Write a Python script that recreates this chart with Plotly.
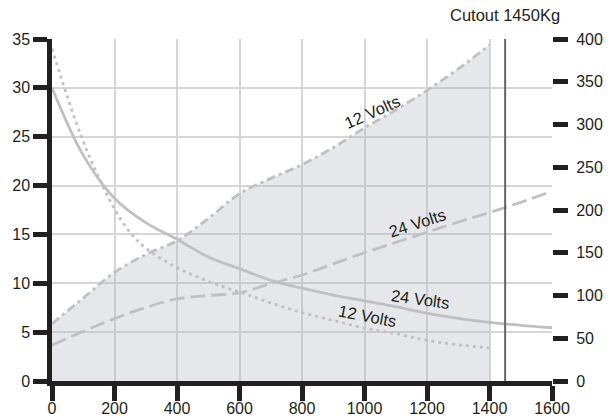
import plotly.graph_objects as go

# Load (Kg) on x
x_fall_12 = [0, 50, 100, 150, 200, 250, 300, 400, 500, 600, 700, 800, 900, 1000, 1100, 1200, 1300, 1400]
fall_12 = [34.0, 29.0, 24.5, 20.8, 17.6, 15.2, 13.6, 11.6, 10.2, 9.1, 8.0, 7.0, 6.2, 5.4, 4.85, 4.15, 3.7, 3.4]

x_fall_24 = [0, 100, 200, 300, 400, 500, 600, 700, 800, 900, 1000, 1100, 1200, 1300, 1400, 1500, 1600]
fall_24 = [30.0, 23.1, 18.7, 16.2, 14.5, 12.7, 11.5, 10.3, 9.5, 8.8, 8.2, 7.6, 6.95, 6.4, 6.0, 5.7, 5.45]

x_rise_12 = [0, 100, 200, 300, 400, 500, 600, 700, 800, 900, 1000, 1100, 1200, 1300, 1400]
rise_12 = [67, 97, 127, 148, 164, 190, 219, 237, 253, 273, 296, 317, 340, 365, 393]

x_rise_24 = [0, 100, 200, 300, 400, 500, 600, 700, 800, 900, 1000, 1100, 1200, 1300, 1400, 1500, 1600]
rise_24 = [42, 58, 73, 86, 96, 100, 103, 114, 124, 137, 150, 162, 174, 186, 197, 209, 222]

x_ticks = [0, 200, 400, 600, 800, 1000, 1200, 1400, 1600]
left_ticks = [0, 5, 10, 15, 20, 25, 30, 35]
right_ticks = [0, 50, 100, 150, 200, 250, 300, 350, 400]
cutout = 1450

LINE = "#bfc0c2"
FONT = "Liberation Sans, Arial, Helvetica, sans-serif"
INK = "#231f20"

fig = go.Figure()

# rising curves on primary (right) axis
fig.add_trace(go.Scatter(x=x_rise_12, y=rise_12, mode="lines", yaxis="y",
                         line=dict(color=LINE, width=2.8, dash="9px,4px,3px,4px"),
                         line_shape="spline",
                         fill="tozeroy", fillcolor="rgba(178,181,190,0.33)",
                         hoverinfo="skip", showlegend=False))
fig.add_trace(go.Scatter(x=x_rise_24, y=rise_24, mode="lines", yaxis="y",
                         line=dict(color=LINE, width=2.8, dash="15px,6px"),
                         line_shape="spline", hoverinfo="skip", showlegend=False))
# falling curves on left axis
fig.add_trace(go.Scatter(x=x_fall_12, y=fall_12, mode="lines", yaxis="y2",
                         line=dict(color=LINE, width=2.8, dash="3px,4px"),
                         line_shape="spline", hoverinfo="skip", showlegend=False))
fig.add_trace(go.Scatter(x=x_fall_24, y=fall_24, mode="lines", yaxis="y2",
                         line=dict(color=LINE, width=2.8),
                         line_shape="spline", hoverinfo="skip", showlegend=False))

fig.add_shape(type="line", xref="x", yref="paper", x0=cutout, x1=cutout, y0=0, y1=1,
              line=dict(color="#666666", width=2))

ann_font = dict(family=FONT, size=16.5, color=INK)
fig.add_annotation(x=cutout, y=1, xref="x", yref="paper", text="Cutout 1450Kg",
                   showarrow=False, yanchor="bottom", yshift=13, font=ann_font)
fig.add_annotation(x=1024, y=27.5, xref="x", yref="y2", text="12 Volts", showarrow=False,
                   textangle=-24, font=ann_font)
fig.add_annotation(x=1168, y=16.2, xref="x", yref="y2", text="24 Volts", showarrow=False,
                   textangle=-18, font=ann_font)
fig.add_annotation(x=1178, y=8.4, xref="x", yref="y2", text="24 Volts", showarrow=False,
                   textangle=8, font=ann_font)
fig.add_annotation(x=1011, y=6.66, xref="x", yref="y2", text="12 Volts", showarrow=False,
                   textangle=11, font=ann_font)

tick_font = dict(family=FONT, size=16, color=INK)
fig.update_layout(
    width=616, height=418, autosize=False,
    margin=dict(l=52, r=64, t=39, b=37, autoexpand=False),
    paper_bgcolor="white", plot_bgcolor="white",
    font=dict(family=FONT, size=16, color=INK),
    xaxis=dict(range=[0, 1600], tickvals=x_ticks, showgrid=True, gridcolor="#d6d6d6", gridwidth=2,
               zeroline=False, showline=True, linecolor="#231f20", linewidth=4.5,
               ticks="outside", ticklen=15, tickwidth=4.5, tickcolor="#231f20",
               tickfont=tick_font, automargin=False, ticklabelstandoff=-6),
    yaxis=dict(range=[0, 400], tickvals=right_ticks, side="right", showgrid=False, zeroline=False,
               showline=False, ticks="outside", ticklen=15, tickwidth=4.5, tickcolor="#231f20",
               tickfont=tick_font, automargin=False, ticklabelstandoff=5),
    yaxis2=dict(range=[0, 35], tickvals=left_ticks, side="left", overlaying="y", showgrid=True,
                gridcolor="#d6d6d6", gridwidth=2, zeroline=False, showline=True,
                linecolor="#231f20", linewidth=4.5, ticks="outside", ticklen=14, tickwidth=4.5,
                tickcolor="#231f20", tickfont=tick_font, automargin=False),
)

fig.write_html("out.html", config={"displayModeBar": False, "responsive": False},
               post_script="document.body.style.margin='0';")
